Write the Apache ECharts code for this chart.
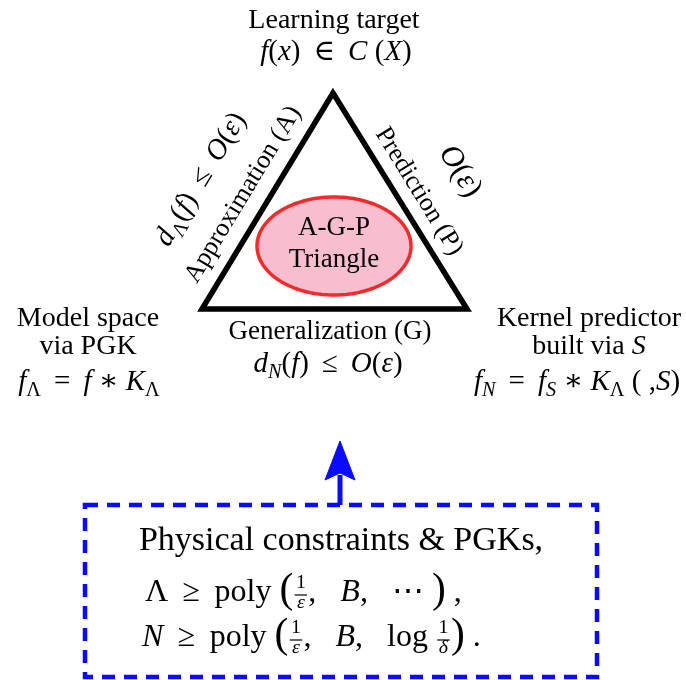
<!DOCTYPE html>
<html>
<head>
<meta charset="utf-8">
<script src="https://cdn.jsdelivr.net/npm/echarts@6.0.0/dist/echarts.min.js"></script>
<style>
html, body { margin: 0; padding: 0; background: #fff; }
#main { width: 686px; height: 680px; }
</style>
</head>
<body>
<div id="main"></div>
<script>
// ---- 图中文字内容 ----
// token: ['r',txt] 正体, ['i',txt] 斜体, ['c',txt] 花体(用斜体代替), ['sr'|'si'|'sc',txt] 下标,
//        ['big',txt] 大括号, ['frac',分子,分母] 分数
var REL = ' \u2009'; // 关系符两侧的间距
var titleText = [['r', 'Learning target']];
var targetFormula = [['i', 'f'], ['r', '('], ['i', 'x'], ['r', ')'], ['r', REL + '∈' + REL], ['c', 'C'], ['r', ' ('], ['c', 'X'], ['r', ')']];
var approxText = [['r', 'Approximation (A)']];
var approxFormula = [['i', 'd'], ['sr', 'Λ'], ['r', '('], ['i', 'f'], ['r', ')'], ['r', REL + '≤' + REL], ['c', 'O'], ['r', '('], ['i', 'ε'], ['r', ')']];
var predText = [['r', 'Prediction (P)']];
var predFormula = [['c', 'O'], ['r', '('], ['i', 'ε'], ['r', ')']];
var centerText = [[['r', 'A-G-P']], [['r', 'Triangle']]];
var genText = [['r', 'Generalization (G)']];
var genFormula = [['i', 'd'], ['si', 'N'], ['r', '('], ['i', 'f'], ['r', ')'], ['r', REL + '≤' + REL], ['c', 'O'], ['r', '('], ['i', 'ε'], ['r', ')']];
var modelText = [[['r', 'Model space']], [['r', 'via PGK']]];
var modelFormula = [['i', 'f'], ['sr', 'Λ'], ['r', REL + '=' + REL], ['i', 'f'], ['r', ' ∗ '], ['i', 'K'], ['sr', 'Λ']];
var kernelText = [[['r', 'Kernel predictor']], [['r', 'built via '], ['c', 'S']]];
var kernelFormula = [['i', 'f'], ['si', 'N'], ['r', REL + '=' + REL], ['i', 'f'], ['sc', 'S'], ['r', ' ∗ '], ['i', 'K'], ['sr', 'Λ'], ['r', ' ( ,'], ['c', 'S'], ['r', ')']];
var boxTitle = [['r', 'Physical constraints & PGKs,']];
var boxLambda = [['r', 'Λ' + REL + '≥' + REL + 'poly '], ['big', '('], ['frac', '1', 'ε'], ['r', ',   '], ['i', 'B'], ['r', ',   ⋯ '], ['big', ')'], ['r', ' ,']];
var boxN = [['i', 'N'], ['r', REL + '≥' + REL + 'poly '], ['big', '('], ['frac', '1', 'ε'], ['r', ',   '], ['i', 'B'], ['r', ',   log '], ['frac', '1', 'δ'], ['big', ')'], ['r', ' .']];

// ---- 图形位置（图坐标 0..686 x 0..680） ----
var triangle = [[333, 93], [202, 309], [467, 309]];
var ellipse = { cx: 334, cy: 246, rx: 77, ry: 49 };
var arrow = { x: 340, tip: 441, head: 480, tail: 505, half: 15 };
var box = { x1: 85, y1: 505, x2: 597, y2: 677 };

// 文字位置：x, y 为基线中点（mid 为视觉中心），rot 为旋转角度
var labels = [
  { t: titleText, x: 334, y: 30, size: 28 },
  { t: targetFormula, x: 336, y: 62, size: 29 },
  { t: approxText, x: 244, y: 195, size: 26, rot: 58.8, mid: true },
  { t: approxFormula, x: 202, y: 180, size: 29, rot: 58.8, mid: true },
  { t: predText, x: 418, y: 192, size: 26, rot: -58.3, mid: true },
  { t: predFormula, x: 459, y: 172, size: 31, rot: -58.3, mid: true },
  { t: centerText[0], x: 334, y: 237, size: 27 },
  { t: centerText[1], x: 334, y: 269, size: 27 },
  { t: genText, x: 330, y: 341, size: 27 },
  { t: genFormula, x: 328, y: 374, size: 29 },
  { t: modelText[0], x: 88, y: 328, size: 28 },
  { t: modelText[1], x: 88, y: 356, size: 28 },
  { t: modelFormula, x: 89, y: 392, size: 29 },
  { t: kernelText[0], x: 589, y: 328, size: 28 },
  { t: kernelText[1], x: 589, y: 356, size: 28 },
  { t: kernelFormula, x: 577, y: 392, size: 29 },
  { t: boxTitle, x: 341, y: 553, size: 34 },
  { t: boxLambda, x: 145, y: 603, size: 32, left: true },
  { t: boxN, x: 142, y: 648, size: 32, left: true }
];

var FAMILY = '"Liberation Serif", "DejaVu Serif", serif';
var BLUE = '#0a0aff';
var tokenStyle = {
  r: { style: 'normal', scale: 1, dy: 0 },
  i: { style: 'italic', scale: 1, dy: 0 },
  c: { style: 'italic', scale: 1, dy: 0 },
  sr: { style: 'normal', scale: 0.7, dy: 0.2 },
  si: { style: 'italic', scale: 0.7, dy: 0.2 },
  sc: { style: 'italic', scale: 0.7, dy: 0.2 },
  big: { style: 'normal', scale: 1.3, dy: 0.08 }
};

var ctx = document.createElement('canvas').getContext('2d');
function measure(text, style, size) {
  ctx.font = style + ' ' + size + 'px ' + FAMILY;
  return ctx.measureText(text).width;
}

// 把 token 排成一行，返回片段和总宽度
function layoutTokens(tokens, s) {
  var pieces = [], x = 0;
  tokens.forEach(function (t) {
    if (t[0] === 'frac') {
      var fs = s * 0.62;
      var w = Math.max(measure(t[1], 'normal', fs), measure(t[2], 'italic', fs)) + s * 0.16;
      pieces.push({ text: t[1], x: x + w / 2, dy: -0.42 * s, size: fs, style: 'normal', align: 'center' });
      pieces.push({ text: t[2], x: x + w / 2, dy: 0.2 * s, size: fs, style: 'italic', align: 'center' });
      pieces.push({ bar: true, x1: x + s * 0.04, x2: x + w - s * 0.04, dy: -0.25 * s });
      x += w;
      return;
    }
    var c = tokenStyle[t[0]];
    var size = s * c.scale;
    pieces.push({ text: t[1], x: x, dy: c.dy * s, size: size, style: c.style, align: 'left' });
    x += measure(t[1], c.style, size);
  });
  return { pieces: pieces, width: x };
}

function renderLabel(params, api) {
  var lab = labels[params.dataIndex];
  var p = api.coord([api.value(0), api.value(1)]);
  var lay = layoutTokens(lab.t, lab.size);
  var ox = lab.left ? 0 : -lay.width / 2;
  var base = lab.mid ? 0.3 * lab.size : 0;
  var children = lay.pieces.map(function (q) {
    if (q.bar) {
      return {
        type: 'line',
        shape: { x1: q.x1 + ox, y1: q.dy + base, x2: q.x2 + ox, y2: q.dy + base },
        style: { stroke: '#000', lineWidth: 1.2 }
      };
    }
    return {
      type: 'text',
      x: q.x + ox,
      y: q.dy + base - 0.34 * q.size,
      style: {
        text: q.text, fill: '#000',
        fontSize: q.size, fontFamily: FAMILY, fontStyle: q.style,
        align: q.align, verticalAlign: 'middle',
        textAlign: q.align, textVerticalAlign: 'middle'
      }
    };
  });
  return {
    type: 'group', x: p[0], y: p[1],
    rotation: (lab.rot || 0) * Math.PI / 180,
    children: children
  };
}

function renderShapes(params, api) {
  var tri = triangle.map(function (v) { return api.coord(v); });
  var ell = [];
  for (var k = 0; k < 160; k++) {
    var a = k / 160 * Math.PI * 2;
    ell.push(api.coord([ellipse.cx + ellipse.rx * Math.cos(a), ellipse.cy + ellipse.ry * Math.sin(a)]));
  }
  var b1 = api.coord([box.x1, box.y1]), b2 = api.coord([box.x2, box.y2]);
  var tip = api.coord([arrow.x, arrow.tip]);
  var hl = api.coord([arrow.x - arrow.half, arrow.head]);
  var hr = api.coord([arrow.x + arrow.half, arrow.head]);
  var notch = api.coord([arrow.x, arrow.head - 7]);
  var tail = api.coord([arrow.x, arrow.tail]);
  return {
    type: 'group',
    children: [
      { type: 'polygon', shape: { points: tri }, style: { fill: '#fff', stroke: '#000', lineWidth: 5.5, lineJoin: 'miter' } },
      { type: 'polygon', shape: { points: ell }, style: { fill: '#f9bdd0', stroke: '#f22a2a', lineWidth: 3.5 } },
      { type: 'rect', shape: { x: b1[0], y: b1[1], width: b2[0] - b1[0], height: b2[1] - b1[1] },
        style: { fill: 'none', stroke: BLUE, lineWidth: 4.5, lineDash: [13, 9] } },
      { type: 'line', shape: { x1: tail[0], y1: tail[1], x2: notch[0], y2: notch[1] + 2 }, style: { stroke: BLUE, lineWidth: 5 } },
      { type: 'polygon', shape: { points: [tip, hr, notch, hl] }, style: { fill: BLUE, stroke: BLUE, lineWidth: 1 } }
    ]
  };
}

var myChart = echarts.init(document.getElementById('main'));
var option = {
  animation: false,
  backgroundColor: '#fff',
  grid: { left: 0, right: 0, top: 0, bottom: 0 },
  xAxis: { type: 'value', min: 0, max: 686, show: false },
  yAxis: { type: 'value', min: 0, max: 680, inverse: true, show: false },
  series: [
    {
      type: 'custom', name: 'shapes', silent: true,
      renderItem: renderShapes,
      data: [[0, 0]]
    },
    {
      type: 'custom', name: 'labels', silent: true,
      renderItem: renderLabel,
      data: labels.map(function (l) { return [l.x, l.y]; })
    }
  ]
};
myChart.setOption(option);
</script>
</body>
</html>
